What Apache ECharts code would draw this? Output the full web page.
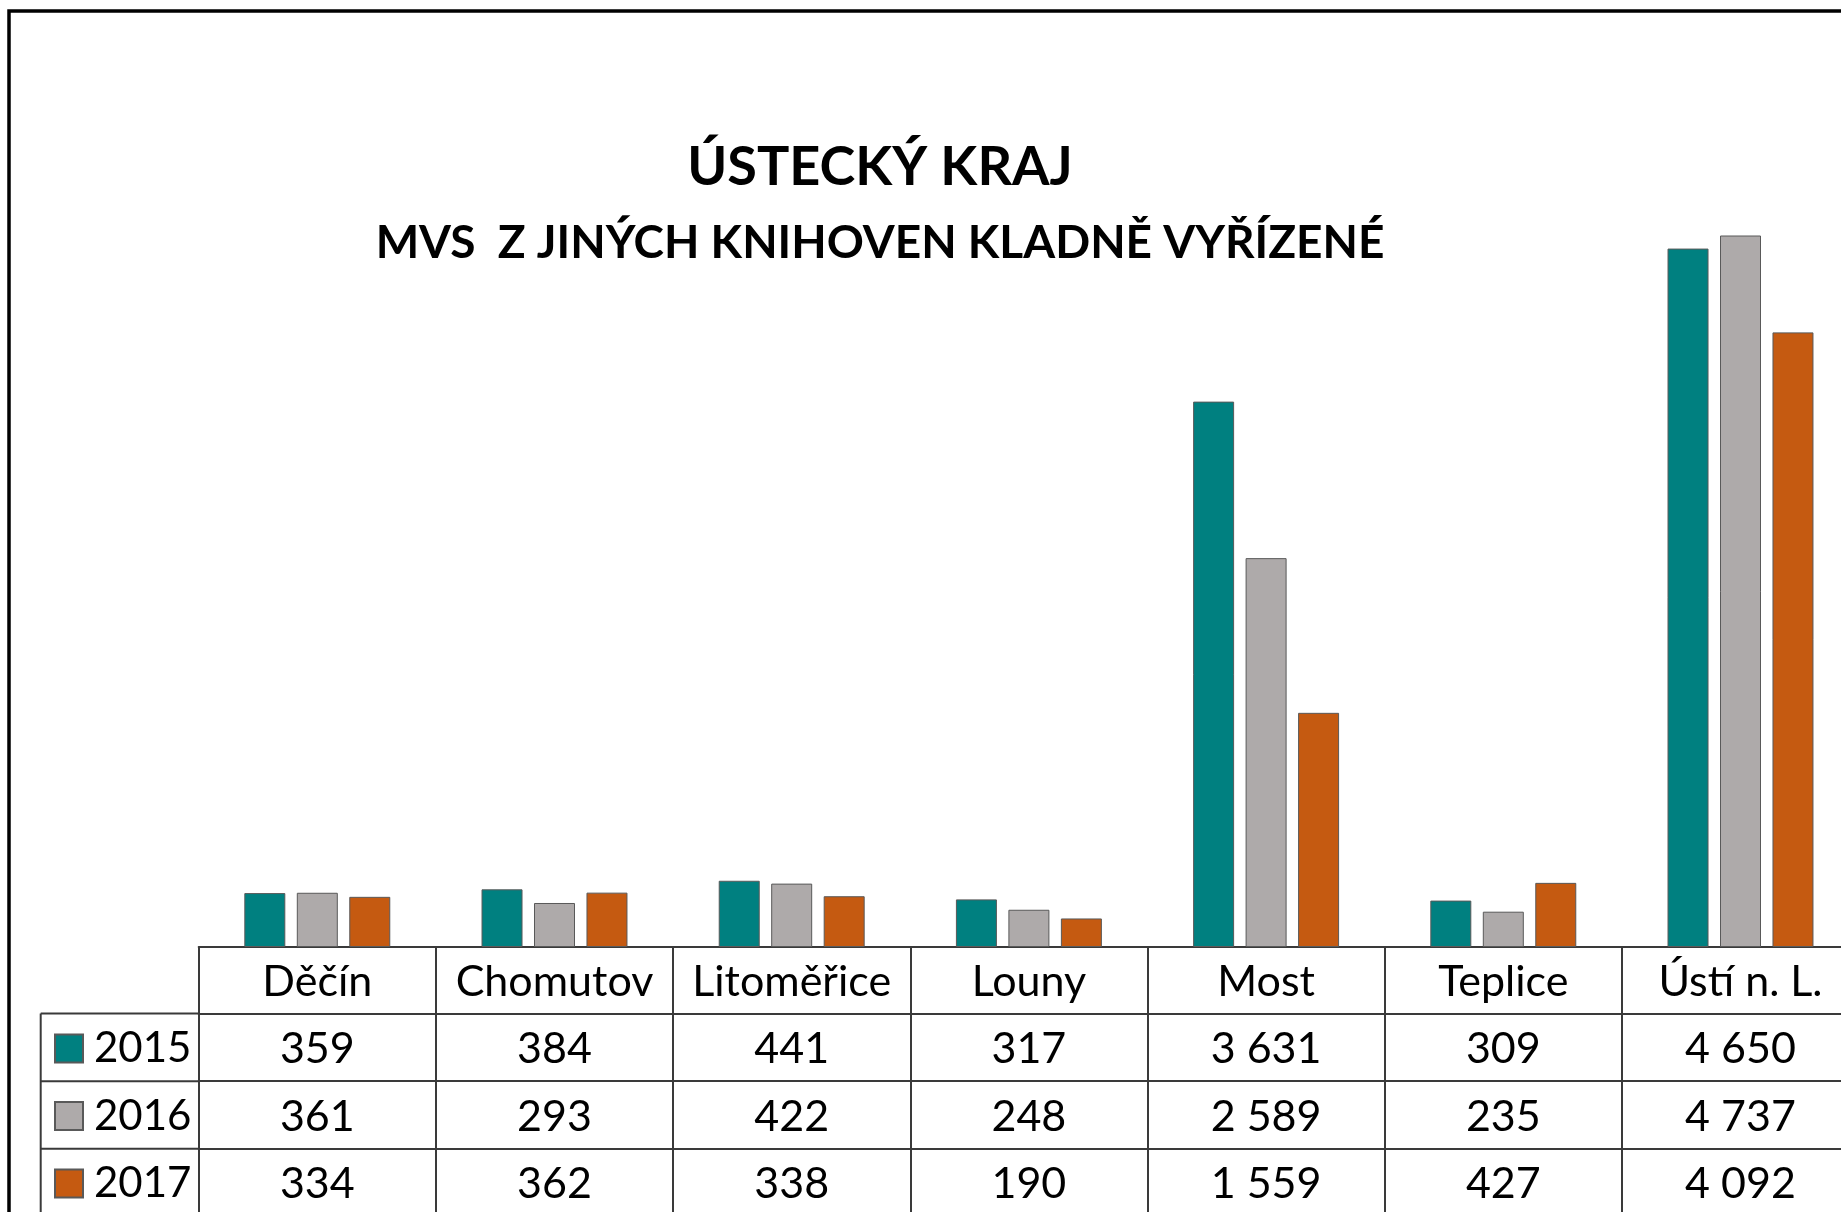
<!DOCTYPE html>
<html>
<head>
<meta charset="utf-8">
<script src="https://cdn.jsdelivr.net/npm/echarts@6/dist/echarts.min.js"></script>
<style>
  html, body { margin: 0; padding: 0; background: #fff; }
  #chart { width: 1841px; height: 1212px; }
</style>
</head>
<body>
<div id="chart"></div>
<script>
const categories = ['Děčín', 'Chomutov', 'Litoměřice', 'Louny', 'Most', 'Teplice', 'Ústí n. L.'];
const years = ['2015', '2016', '2017'];
const values2015 = [359, 384, 441, 317, 3631, 309, 4650];
const values2016 = [361, 293, 422, 248, 2589, 235, 4737];
const values2017 = [334, 362, 338, 190, 1559, 427, 4092];
const titleMain = 'ÚSTECKÝ KRAJ';
const titleSub = 'MVS  Z JINÝCH KNIHOVEN KLADNĚ VYŘÍZENÉ';

const seriesValues = [values2015, values2016, values2017];
const colors = ['#008080', '#AEAAAA', '#C55A11'];
const FONT = 'Lato, "Open Sans", sans-serif';
const lineColor = '#3a3a3a';

function fmt(n) {
  return String(n).replace(/\B(?=(\d{3})+(?!\d))/g, ' ');
}

const gridLeft = 198.7, gridTop = 196, gridHeight = 751, colW = 237.2;
const rowH = 67.6;
const tableRows = [1, 2, 3];

const chart = echarts.init(document.getElementById('chart'), null, { renderer: 'canvas' });

const xAxes = [{
  type: 'category',
  data: categories,
  gridIndex: 0,
  position: 'bottom',
  boundaryGap: true,
  axisLine: { show: true, lineStyle: { color: lineColor, width: 2 } },
  axisTick: { show: true, interval: 0, length: 280, lineStyle: { color: lineColor, width: 2 } },
  axisLabel: {
    interval: 0, margin: 35, verticalAlign: 'middle',
    fontSize: 43, lineHeight: 43, fontFamily: FONT, color: '#000'
  },
  splitLine: { show: false }
}];
seriesValues.forEach(function (vals, k) {
  xAxes.push({
    type: 'category',
    data: categories,
    gridIndex: 0,
    position: 'bottom',
    offset: rowH * (k + 1) - 1,
    boundaryGap: true,
    axisLine: { show: true, lineStyle: { color: lineColor, width: 2 } },
    axisTick: { show: false },
    axisLabel: {
      interval: 0, margin: 35.5, verticalAlign: 'middle',
      fontSize: 43, lineHeight: 43, fontFamily: FONT, color: '#000',
      formatter: function (v, i) { return fmt(vals[i]); }
    },
    splitLine: { show: false }
  });
});

const series = years.map(function (y, k) {
  return {
    name: y,
    type: 'bar',
    xAxisIndex: 0,
    yAxisIndex: 0,
    data: seriesValues[k],
    barWidth: 41,
    barGap: '28%',
    itemStyle: { color: colors[k], borderColor: '#595959', borderWidth: 1 },
    emphasis: { disabled: true },
    animation: false
  };
});

const tableTop = gridTop + gridHeight;
const legendLeftX = 40.7;
const graphics = [
  {
    type: 'rect',
    shape: { x: 9, y: 11, width: 2000, height: 1500 },
    style: { fill: 'none', stroke: '#000', lineWidth: 3.5 },
    silent: true
  },
  {
    type: 'line',
    shape: { x1: legendLeftX, y1: tableTop + rowH - 1, x2: legendLeftX, y2: 1300 },
    style: { stroke: lineColor, lineWidth: 2 }, silent: true
  }
];
tableRows.forEach(function (r) {
  graphics.push({
    type: 'line',
    shape: { x1: legendLeftX, y1: tableTop + rowH * r - 1, x2: gridLeft, y2: tableTop + rowH * r - 1 },
    style: { stroke: lineColor, lineWidth: 2 }, silent: true
  });
});

chart.setOption({
  backgroundColor: '#fff',
  animation: false,
  title: [
    {
      text: titleMain, left: 880, top: 141, padding: 0,
      textAlign: 'center', textVerticalAlign: 'top',
      textStyle: { fontSize: 54, lineHeight: 54, fontWeight: 'bold', fontFamily: FONT, color: '#000' }
    },
    {
      text: titleSub, left: 880, top: 220, padding: 0,
      textAlign: 'center', textVerticalAlign: 'top',
      textStyle: { fontSize: 46, lineHeight: 46, fontWeight: 'bold', fontFamily: FONT, color: '#000' }
    }
  ],
  legend: {
    data: years,
    orient: 'vertical',
    left: 54,
    top: tableTop + rowH - 1 + rowH / 2 - 21.5 + 1,
    padding: 0,
    icon: 'rect',
    itemWidth: 28,
    itemHeight: 28,
    itemGap: rowH - 43,
    selectedMode: false,
    textStyle: { fontSize: 42, lineHeight: 43, fontFamily: FONT, color: '#000', padding: [0, 0, 0, 6] }
  },
  grid: {
    left: gridLeft, top: gridTop, width: colW * categories.length, height: gridHeight,
    containLabel: false, outerBoundsMode: 'none'
  },
  xAxis: xAxes,
  yAxis: {
    type: 'value', min: 0, max: 5000, show: false,
    splitLine: { show: false }
  },
  series: series,
  graphic: graphics
});
</script>
</body>
</html>
